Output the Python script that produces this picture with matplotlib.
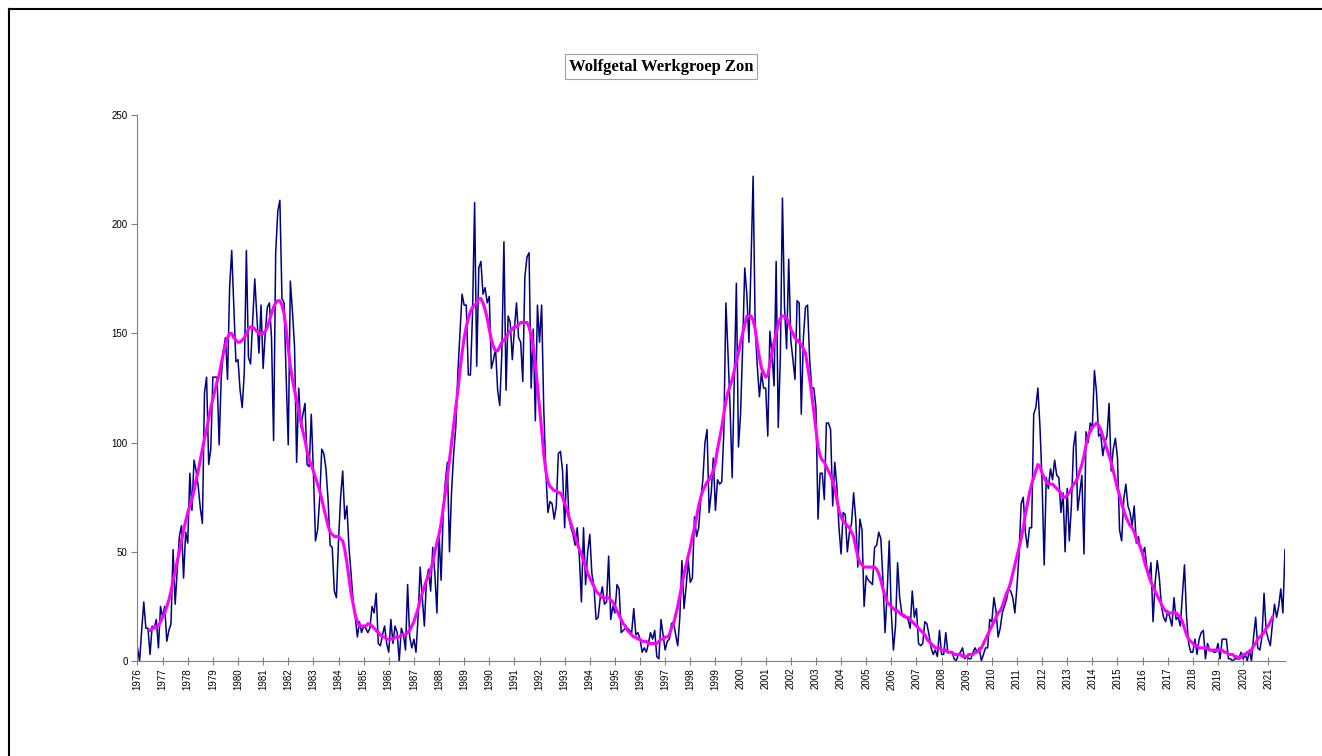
import matplotlib.pyplot as plt
from matplotlib.lines import Line2D
import numpy as np

# maandelijks wolfgetal, januari 1976 t/m september 2021
wolf = [
    6, 0, 14, 27, 15, 15, 3, 16, 15, 19, 6, 25,               # 1976
    20, 25, 9, 14, 17, 51, 26, 42, 57, 62, 38, 59,            # 1977
    54, 86, 69, 92, 87, 80, 70, 63, 123, 130, 90, 97,         # 1978
    130, 130, 130, 99, 130, 142, 148, 129, 171, 188, 162, 137,  # 1979
    138, 124, 116, 132, 188, 139, 136, 155, 175, 158, 141, 163,  # 1980
    134, 150, 162, 164, 148, 101, 187, 206, 211, 166, 164, 130,  # 1981
    99, 174, 160, 144, 91, 125, 107, 113, 118, 90, 89, 113,   # 1982
    87, 55, 60, 74, 97, 95, 88, 74, 53, 52, 32, 29,           # 1983
    55, 75, 87, 65, 71, 52, 40, 27, 20, 11, 18, 13,           # 1984
    16, 15, 13, 15, 25, 22, 31, 8, 7, 12, 16, 8,              # 1985
    4, 19, 8, 16, 13, 0, 15, 12, 5, 35, 11, 6,                # 1986
    10, 4, 20, 43, 29, 16, 37, 42, 32, 52, 40, 22,            # 1987
    59, 37, 68, 82, 91, 50, 78, 95, 107, 132, 150, 168,       # 1988
    163, 163, 131, 131, 159, 210, 135, 180, 183, 168, 171, 164,  # 1989
    167, 134, 138, 143, 124, 117, 141, 192, 124, 158, 155, 138,  # 1990
    152, 164, 148, 146, 128, 176, 185, 187, 125, 152, 110, 163,  # 1991
    146, 163, 116, 87, 68, 73, 72, 65, 71, 95, 96, 87,        # 1992
    61, 90, 66, 61, 58, 53, 61, 48, 27, 61, 35, 50,           # 1993
    58, 40, 34, 19, 20, 29, 34, 26, 27, 48, 19, 25,           # 1994
    22, 35, 33, 13, 14, 15, 15, 14, 13, 24, 12, 13,           # 1995
    10, 4, 6, 4, 8, 13, 10, 14, 2, 1, 19, 12,                 # 1996
    5, 9, 10, 17, 18, 12, 7, 20, 46, 24, 34, 46,              # 1997
    36, 38, 66, 57, 61, 74, 83, 100, 106, 68, 77, 93,         # 1998
    69, 83, 81, 82, 104, 164, 141, 116, 84, 129, 173, 98,     # 1999
    113, 144, 180, 168, 146, 182, 222, 152, 135, 121, 132, 125,  # 2000
    125, 103, 151, 141, 126, 183, 107, 139, 212, 162, 143, 184,  # 2001
    147, 138, 129, 165, 164, 113, 148, 162, 163, 138, 125, 125,  # 2002
    116, 65, 86, 86, 74, 109, 109, 106, 71, 91, 80, 61,       # 2003
    49, 68, 67, 50, 59, 63, 77, 65, 43, 65, 60, 25,           # 2004
    39, 37, 36, 35, 52, 53, 59, 56, 37, 13, 31, 55,           # 2005
    22, 5, 16, 45, 29, 22, 20, 20, 19, 15, 32, 20,            # 2006
    24, 8, 7, 8, 18, 17, 12, 6, 3, 5, 2, 14,                  # 2007
    3, 3, 13, 4, 4, 4, 1, 0, 3, 4, 6, 1,                      # 2008
    2, 1, 1, 4, 6, 4, 6, 0, 3, 6, 6, 19,                      # 2009
    18, 29, 23, 11, 15, 22, 25, 28, 33, 32, 29, 22,           # 2010
    34, 49, 72, 75, 59, 52, 61, 61, 113, 116, 125, 107,       # 2011
    82, 44, 84, 79, 88, 83, 92, 85, 84, 68, 77, 50,           # 2012
    79, 55, 71, 98, 105, 69, 77, 85, 49, 105, 100, 109,       # 2013
    107, 133, 123, 103, 104, 94, 100, 103, 118, 87, 97, 102,  # 2014
    93, 60, 55, 74, 81, 71, 68, 62, 71, 54, 57, 51,           # 2015
    49, 52, 43, 38, 45, 18, 36, 46, 38, 25, 20, 18,           # 2016
    23, 20, 16, 29, 19, 20, 16, 30, 44, 20, 8, 4,             # 2017
    4, 10, 3, 10, 13, 14, 1, 8, 5, 5, 4, 4,                   # 2018
    8, 1, 10, 10, 10, 1, 1, 0, 1, 1, 1, 4,                    # 2019
    1, 3, 0, 5, 0, 11, 20, 6, 5, 11, 31, 14,                  # 2020
    10, 7, 17, 26, 20, 25, 33, 22, 51,                        # 2021
]

# 13-maands gladgestreken wolfgetal, juli 1976 t/m maart 2021
smooth = [
    14, 15, 15, 16, 16, 18,                                   # 1976 (jul-dec)
    20, 22, 25, 28, 32, 37, 41, 46, 50, 55, 60, 64,           # 1977
    68, 71, 74, 78, 83, 87, 92, 97, 102, 106, 111, 116,       # 1978
    120, 124, 128, 131, 136, 141, 145, 148, 150, 150, 148, 147,  # 1979
    146, 146, 147, 148, 150, 152, 153, 153, 152, 151, 150, 150,  # 1980
    150, 151, 153, 156, 159, 162, 164, 165, 165, 163, 159, 152,  # 1981
    143, 135, 129, 124, 119, 115, 110, 105, 101, 96, 92, 90,  # 1982
    87, 84, 81, 78, 74, 70, 66, 62, 59, 58, 57, 57,           # 1983
    57, 56, 55, 51, 45, 38, 31, 26, 21, 18, 16, 16,           # 1984
    16, 16, 17, 17, 16, 15, 14, 13, 12, 11, 11, 10,           # 1985
    10, 10, 10, 11, 11, 11, 12, 12, 12, 13, 14, 16,           # 1986
    18, 21, 24, 28, 31, 34, 37, 39, 42, 45, 50, 54,           # 1987
    58, 63, 70, 77, 85, 92, 100, 108, 116, 124, 133, 141,     # 1988
    148, 153, 157, 160, 162, 163, 164, 166, 166, 164, 161, 157,  # 1989
    152, 147, 144, 142, 142, 144, 146, 147, 148, 150, 151, 152,  # 1990
    153, 153, 154, 155, 155, 155, 155, 153, 149, 144, 136, 126,  # 1991
    116, 106, 95, 87, 82, 80, 79, 78, 78, 77, 77, 75,         # 1992
    72, 70, 66, 63, 60, 57, 54, 51, 49, 46, 43, 40,           # 1993
    38, 36, 34, 32, 31, 30, 29, 29, 29, 29, 28, 27,           # 1994
    25, 23, 21, 19, 17, 16, 14, 13, 12, 11, 11, 10,           # 1995
    10, 9, 9, 9, 8, 8, 8, 8, 8, 9, 10, 10,                    # 1996
    11, 11, 12, 15, 17, 21, 25, 30, 35, 40, 44, 48,           # 1997
    52, 57, 61, 66, 71, 75, 78, 80, 82, 83, 85, 87,           # 1998
    91, 97, 102, 107, 113, 119, 123, 126, 129, 133, 137, 141,  # 1999
    146, 150, 154, 158, 158, 158, 156, 152, 145, 139, 134, 132,  # 2000
    130, 131, 136, 141, 146, 150, 154, 157, 158, 158, 157, 155,  # 2001
    152, 150, 148, 147, 146, 145, 143, 141, 135, 129, 122, 114,  # 2002
    106, 98, 94, 92, 91, 89, 87, 85, 82, 79, 74, 69,          # 2003
    66, 64, 63, 62, 61, 59, 57, 52, 48, 45, 44, 43,           # 2004
    43, 43, 43, 43, 43, 42, 40, 37, 33, 30, 27, 26,           # 2005
    25, 24, 23, 23, 22, 21, 21, 20, 20, 19, 18, 17,           # 2006
    16, 15, 14, 13, 12, 10, 9, 8, 7, 6, 6, 6,                 # 2007
    5, 5, 5, 4, 4, 4, 3, 3, 3, 3, 2, 2,                       # 2008
    2, 3, 3, 3, 4, 4, 5, 6, 8, 10, 12, 14,                    # 2009
    16, 18, 20, 22, 23, 25, 28, 31, 33, 36, 40, 44,           # 2010
    48, 52, 56, 61, 67, 72, 77, 81, 84, 87, 90, 89,           # 2011
    86, 84, 82, 81, 81, 81, 80, 79, 78, 77, 75, 75,           # 2012
    76, 77, 79, 81, 82, 84, 87, 90, 94, 99, 103, 105,         # 2013
    107, 108, 109, 108, 106, 103, 100, 97, 94, 91, 87, 83,    # 2014
    79, 76, 72, 69, 66, 64, 62, 61, 59, 56, 54, 52,           # 2015
    49, 45, 42, 39, 36, 34, 32, 30, 28, 26, 24, 23,           # 2016
    22, 22, 22, 22, 22, 21, 20, 18, 15, 12, 10, 9,            # 2017
    8, 7, 7, 6, 6, 6, 6, 6, 5, 5, 5, 5,                       # 2018
    5, 5, 5, 4, 4, 3, 3, 3, 2, 2, 1, 2,                       # 2019
    3, 3, 4, 4, 5, 7, 8, 10, 11, 12, 13, 15,                  # 2020
    16, 18, 20,                                               # 2021 (jan-mrt)
]

years = list(range(1976, 2022))
title = 'Wolfgetal Werkgroep Zon'

months = np.arange(len(wolf))
smooth_months = np.arange(6, 6 + len(smooth))

fig = plt.figure(figsize=(13.22, 7.56), dpi=100)
ax = fig.add_axes([0.104, 0.1257, 0.868, 0.722])

ax.plot(months, wolf, color='#000080', lw=1.1)
ax.plot(smooth_months, smooth, color='#ff00ff', lw=2.2)

ax.set_xlim(0, len(wolf) - 1)
ax.set_ylim(0, 250)
ax.set_yticks(range(0, 251, 50))
ax.set_xticks([12 * i for i in range(len(years))])
ax.set_xticklabels([str(y) for y in years], rotation=90)

for lab in ax.get_xticklabels() + ax.get_yticklabels():
    lab.set_fontfamily('Liberation Sans')
    lab.set_fontsize(7)

ax.spines['top'].set_visible(False)
ax.spines['right'].set_visible(False)
ax.spines['left'].set_color('#808080')
ax.spines['bottom'].set_color('#808080')
ax.tick_params(axis='y', direction='out', length=4, width=0.8, color='#808080', pad=3)
ax.tick_params(axis='x', direction='inout', length=6, width=0.8, color='#808080', pad=2)

fig.text(0.5, 0.912, title, ha='center', va='center', fontsize=12,
         fontweight='bold', family='Liberation Serif',
         bbox=dict(boxstyle='square,pad=0.25', fc='white', ec='#a0a0a0', lw=0.8))

# zwarte rand om de grafiek
frame_kw = dict(color='black', lw=1.5, transform=fig.transFigure)
fig.add_artist(Line2D([9 / 1322, 9 / 1322], [0, 1 - 9 / 756], **frame_kw))
fig.add_artist(Line2D([9 / 1322, 1], [1 - 9 / 756, 1 - 9 / 756], **frame_kw))

fig.savefig('out.png', dpi=100)
